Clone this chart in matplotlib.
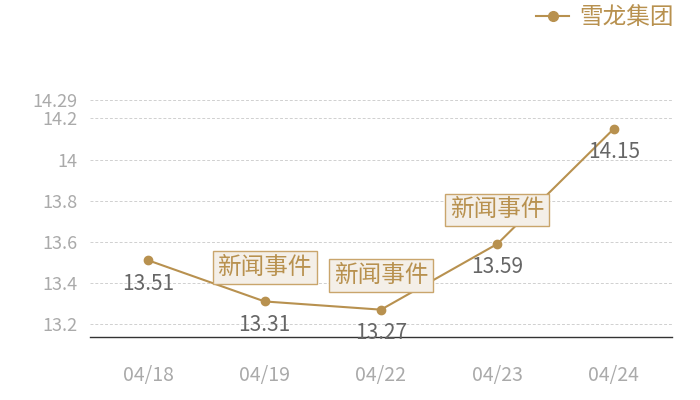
import numpy as np
import matplotlib.pyplot as plt
from matplotlib.lines import Line2D

plt.rcParams['font.family'] = ['Noto Sans CJK SC', 'DejaVu Sans']

dates = ['04/18', '04/19', '04/22', '04/23', '04/24']
prices = [13.51, 13.31, 13.27, 13.59, 14.15]
news_days = [1, 2, 3]
yticks = [13.2, 13.4, 13.6, 13.8, 14.0, 14.2, 14.29]
ytick_labels = ['13.2', '13.4', '13.6', '13.8', '14', '14.2', '14.29']
series_name = '雪龙集团'

gold = '#b8914f'

fig = plt.figure(figsize=(7, 4), dpi=100)
ax = fig.add_axes([90 / 700, 63 / 400, 582 / 700, 237 / 400])

x = np.arange(len(dates))
ax.plot(x, prices, color=gold, lw=1.5, marker='o', ms=6, zorder=3)

for xi, p in zip(x, prices):
    ax.annotate(f'{p:.2f}', (xi, p), xytext=(0, -17), textcoords='offset points',
                ha='center', va='center', fontsize=15, color='#666666', zorder=4)

for i in news_days:
    ax.annotate('新闻事件', (x[i], prices[i]), xytext=(0, 24.5), textcoords='offset points',
                ha='center', va='center', fontsize=17, color=gold, zorder=5,
                bbox=dict(boxstyle='square,pad=0.2', fc='#f4efe8', ec='#c9a56c', lw=1))

ax.set_xlim(-0.5, len(dates) - 0.5)
ax.set_ylim(13.137, 14.29)
ax.set_xticks(x)
ax.set_xticklabels(dates)
ax.set_yticks(yticks)
ax.set_yticklabels(ytick_labels)
ax.tick_params(axis='both', length=0, labelsize=13, labelcolor='#aaaaaa')
ax.tick_params(axis='x', labelsize=14, pad=20)
ax.tick_params(axis='y', pad=9)
ax.grid(axis='y', color='#d0d0d0', ls=(0, (3, 2)), lw=0.7)
for s in ['top', 'right', 'left']:
    ax.spines[s].set_visible(False)
ax.spines['bottom'].set_color('#333333')
ax.spines['bottom'].set_linewidth(1)

handle = Line2D([], [], color=gold, lw=1.5, marker='o', ms=7)
fig.legend([handle], [series_name], loc='center right', bbox_to_anchor=(0.962, 1 - 18 / 400),
           frameon=False, fontsize=17, labelcolor=gold, handlelength=1.4,
           handletextpad=0.4, borderpad=0, borderaxespad=0)

fig.savefig('out.png', dpi=100)
